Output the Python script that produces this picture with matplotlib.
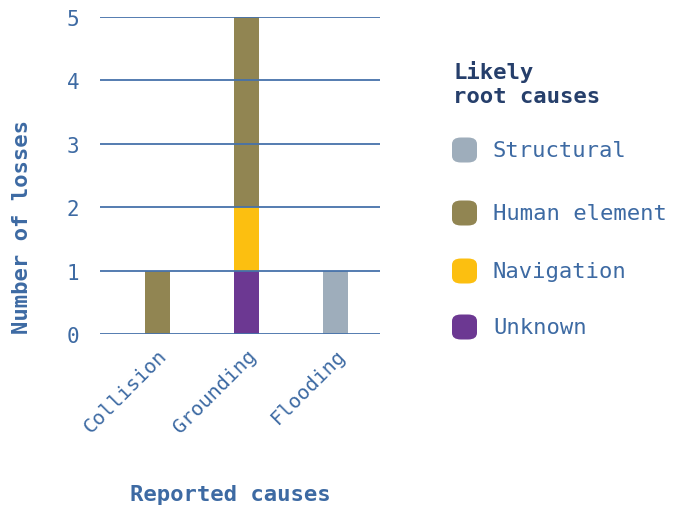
import matplotlib
matplotlib.use("Agg")
import matplotlib.pyplot as plt
from matplotlib.patches import FancyBboxPatch

categories = ["Collision", "Grounding", "Flooding"]
series_names = ["Structural", "Human element", "Navigation", "Unknown"]
unknown = [0, 1, 0]
navigation = [0, 1, 0]
human = [1, 3, 0]
structural = [0, 0, 1]
yticks = [0, 1, 2, 3, 4, 5]

colors = {"Structural": "#9eadbb", "Human element": "#918552",
          "Navigation": "#fcbf10", "Unknown": "#6c3892"}
blue = "#3d6aa3"
navy = "#263f6b"
font = ["DejaVu Sans Mono"]
plt.rcParams["font.family"] = font

fig = plt.figure(figsize=(6.85, 5.06), dpi=100)
W, H = 685, 506

ax = fig.add_axes([100 / W, 1 - 335 / H, 280 / W, 317 / H])
ax.set_facecolor("none")
x = list(range(len(categories)))
bottom = [0, 0, 0]
for name, vals in [("Unknown", unknown), ("Navigation", navigation),
                   ("Human element", human), ("Structural", structural)]:
    ax.bar(x, vals, bottom=bottom, width=0.28, color=colors[name], zorder=1)
    bottom = [b + v for b, v in zip(bottom, vals)]

ax.set_ylim(0, 5)
ax.set_xlim(-0.64, 2.5)
ax.set_yticks(yticks)
for t in yticks:
    ax.axhline(t, color="#4672aa", lw=1.3, zorder=2)
for s in ax.spines.values():
    s.set_visible(False)
ax.tick_params(axis="both", length=0, colors=blue)
ax.tick_params(axis="y", pad=15, labelsize=15)
ax.set_xticks(x)
ax.set_xticklabels(categories, rotation=45, ha="right", va="top",
                   rotation_mode="anchor", color=blue, fontsize=14.5)
ax.tick_params(axis="x", pad=8)
fig.text(22 / W, 1 - 227 / H, "Number of losses", color=blue, fontsize=16,
         fontweight="bold", ha="center", va="center", rotation=90)
fig.text(230 / W, 1 - 495 / H, "Reported causes", color=blue, fontsize=16,
         fontweight="bold", ha="center", va="center")

# legend
fig.text(453 / W, 1 - 84 / H, "Likely\nroot causes", color=navy, fontsize=16,
         fontweight="bold", ha="left", va="center", linespacing=1.3)
ys = [151, 214, 272, 328]
for name, y in zip(series_names, ys):
    s = 25
    fig.patches.append(FancyBboxPatch((452 / W, 1 - (y + s / 2) / H),
                                      s / W, s / H,
                                      boxstyle="round,pad=0,rounding_size=0.013",
                                      transform=fig.transFigure,
                                      facecolor=colors[name], edgecolor="none"))
    fig.text(493 / W, 1 - y / H, name, color=blue, fontsize=16,
             ha="left", va="center")

fig.savefig("out.png", dpi=100)
